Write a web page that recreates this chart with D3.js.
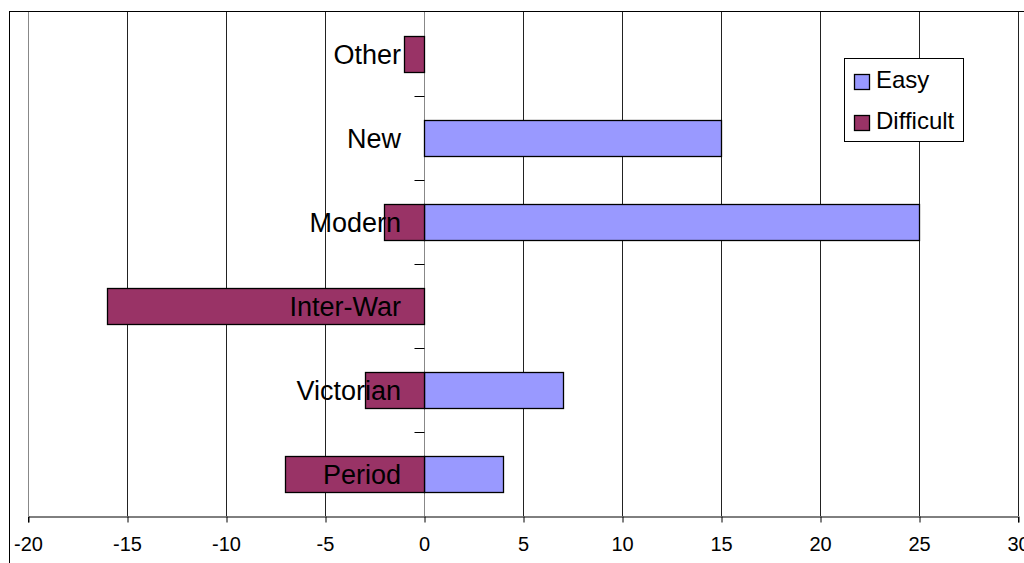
<!DOCTYPE html>
<html>
<head>
<meta charset="utf-8">
<script src="https://cdn.jsdelivr.net/npm/d3@7"></script>
<style>
  html, body { margin: 0; padding: 0; background: #fff; }
  svg { display: block; font-family: "Liberation Sans", Arial, sans-serif; }
</style>
</head>
<body>
<div id="chart"></div>
<script>
// ---------------------------------------------
// Données
// ---------------------------------------------
const categories = ["Other", "New", "Modern", "Inter-War", "Victorian", "Period"];
const easyValues = [0, 15, 25, 0, 7, 4];
const difficultValues = [-1, 0, -2, -16, -3, -7];
const xTicks = [-20, -15, -10, -5, 0, 5, 10, 15, 20, 25, 30];
const seriesNames = ["Easy", "Difficult"];
const seriesColors = ["#9999ff", "#993366"];

// ---------------------------------------------
// Graphique
// ---------------------------------------------
const width = 1024;
const height = 563;
const margin = { top: 12, left: 28, right: 6, bottom: 47 };

const svg = d3.select("#chart").append("svg")
  .attr("width", width)
  .attr("height", height);

// cadre extérieur du graphique
svg.append("rect")
  .attr("x", 9.5)
  .attr("y", 11.5)
  .attr("width", width)
  .attr("height", height)
  .attr("fill", "none")
  .attr("stroke", "#000")
  .attr("stroke-width", 1);

const x = d3.scaleLinear()
  .domain([-20, 30])
  .range([margin.left, width - margin.right]);

const y = d3.scaleBand()
  .domain(categories)
  .range([margin.top, height - margin.bottom])
  .paddingInner(0.57)
  .paddingOuter(0.285);

const yBottom = height - margin.bottom;

// grille verticale
svg.append("g")
  .selectAll("line")
  .data(xTicks)
  .join("line")
  .attr("x1", d => Math.round(x(d)) + 0.5)
  .attr("x2", d => Math.round(x(d)) + 0.5)
  .attr("y1", margin.top)
  .attr("y2", yBottom)
  .attr("stroke", d => d === -20 || d === 0 ? "#888" : "#222")
  .attr("stroke-width", 1);

// axe X (tirets simples comme dans Excel)
const xAxis = svg.append("g")
  .attr("transform", `translate(0,${Math.round(yBottom) + 0.5})`)
  .call(d3.axisBottom(x).tickValues(xTicks).tickSize(6).tickPadding(14).tickFormat(d => String(d)))
  .call(g => g.select(".domain").attr("stroke", "#000"));

xAxis.selectAll(".tick line")
  .attr("transform", d => `translate(${Math.round(x(d)) + 0.5 - x(d)},0)`);

xAxis.selectAll("text")
  .attr("font-size", 20)
  .attr("font-family", "Liberation Sans, Arial, sans-serif")
  .attr("fill", "#000");

// petites graduations de l'axe des catégories (à x = 0)
const x0 = Math.round(x(0)) + 0.5;
const boundaries = categories.slice(1).map(c => y(c) - y.step() * y.paddingInner() / 2);

svg.append("g")
  .selectAll("line")
  .data(boundaries)
  .join("line")
  .attr("x1", x0 - 10)
  .attr("x2", x0)
  .attr("y1", d => Math.round(d) + 0.5)
  .attr("y2", d => Math.round(d) + 0.5)
  .attr("stroke", "#000");

// barres
const rows = categories.map((c, i) => ({ cat: c, easy: easyValues[i], difficult: difficultValues[i] }));

function drawBars(key, color) {
  svg.append("g")
    .selectAll("rect")
    .data(rows.filter(d => d[key] !== 0))
    .join("rect")
    .attr("x", d => Math.round(x(Math.min(0, d[key]))) + 0.5)
    .attr("y", d => Math.round(y(d.cat)) + 0.5)
    .attr("width", d => Math.round(Math.abs(x(d[key]) - x(0))))
    .attr("height", Math.round(y.bandwidth()))
    .attr("fill", color)
    .attr("stroke", "#000")
    .attr("stroke-width", 1.3);
}

drawBars("easy", seriesColors[0]);
drawBars("difficult", seriesColors[1]);

// étiquettes des catégories
svg.append("g")
  .selectAll("text")
  .data(categories)
  .join("text")
  .attr("x", x(0) - 23)
  .attr("y", d => y(d) + y.bandwidth() / 2 + 9.5)
  .attr("text-anchor", "end")
  .attr("font-size", 27)
  .attr("fill", "#000")
  .text(d => d);

// légende
const legend = svg.append("g");

legend.append("rect")
  .attr("x", 844.5)
  .attr("y", 58.5)
  .attr("width", 119)
  .attr("height", 83)
  .attr("fill", "#fff")
  .attr("stroke", "#000");

seriesNames.forEach((name, i) => {
  const ly = 74 + i * 41;
  legend.append("rect")
    .attr("x", 854.5)
    .attr("y", ly + 0.5)
    .attr("width", 15)
    .attr("height", 15)
    .attr("fill", seriesColors[i])
    .attr("stroke", "#000")
    .attr("stroke-width", 1.3);
  legend.append("text")
    .attr("x", 876)
    .attr("y", ly + 14)
    .attr("font-size", 24)
    .attr("fill", "#000")
    .text(name);
});
</script>
</body>
</html>
